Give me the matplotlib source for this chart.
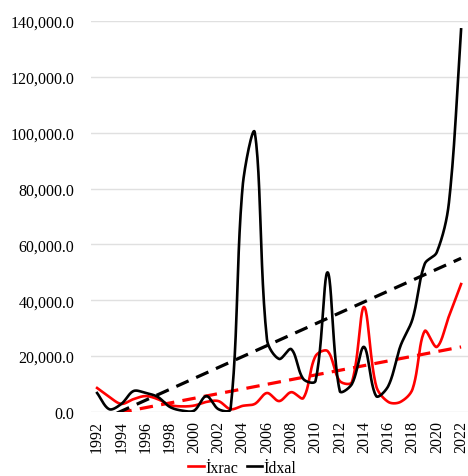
import matplotlib.pyplot as plt
import numpy as np
from matplotlib.ticker import FuncFormatter

years = np.arange(1992, 2023)
ixrac = [8600, 5400, 2900, 4600, 5700, 4600, 2500, 2000, 2300, 3600,
         3900, 1000, 2200, 2900, 6800, 3900, 7100, 5000, 20000, 21800,
         11100, 10700, 37600, 9300, 3600, 3600, 8200, 29000, 23300, 34300,
         45800]
idxal = [6800, 1000, 2900, 7500, 6800, 5400, 1800, 500, 500, 5700,
         1000, 1000, 81000, 100000, 26000, 19000, 22500, 11800, 11100, 50000,
         7500, 10000, 23300, 5700, 9300, 23600, 33300, 53000, 57200, 75000,
         137000]
series_names = ["İxrac", "İdxal"]
series_colors = ["#FF0000", "black"]

# pixel scale of the plot, used so the smoothing behaves like a spreadsheet's
PX_PER_YEAR = 12.2
PX_PER_UNIT = 391 / 140000


def smooth(x, y, n=24):
    # Bezier "smoothed line": control points scaled by neighbouring chord lengths
    x = np.asarray(x, float)
    y = np.asarray(y, float)
    P = np.column_stack([x * PX_PER_YEAR, y * PX_PER_UNIT])
    P = np.vstack([P[0], P, P[-1]])
    t = np.linspace(0, 1, n, endpoint=False)[:, None]
    out = []
    for i in range(1, len(P) - 2):
        p0, p1, p2, p3 = P[i - 1:i + 3]
        d01 = np.linalg.norm(p1 - p0)
        d12 = np.linalg.norm(p2 - p1)
        d23 = np.linalg.norm(p3 - p2)
        c1 = p1 + (p2 - p0) * d12 / (3 * (d01 + d12)) if d01 + d12 > 0 else p1
        c2 = p2 - (p3 - p1) * d12 / (3 * (d12 + d23)) if d12 + d23 > 0 else p2
        b = ((1 - t) ** 3 * p1 + 3 * (1 - t) ** 2 * t * c1
             + 3 * (1 - t) * t ** 2 * c2 + t ** 3 * p2)
        out.append(b)
    out.append(P[-2][None, :])
    out = np.vstack(out)
    return out[:, 0] / PX_PER_YEAR, out[:, 1] / PX_PER_UNIT


plt.rcParams['font.family'] = ['Liberation Serif', 'DejaVu Serif']

fig = plt.figure(figsize=(4.68, 4.77), dpi=100)
ax = fig.add_axes([0.1945, 0.1342, 0.8055, 0.8197])

for vals, name, col in zip([ixrac, idxal], series_names, series_colors):
    sx, sy = smooth(years, vals)
    ax.plot(sx, sy, color=col, lw=1.9, label=name)
    # linear trend line
    k, b = np.polyfit(years, vals, 1)
    ax.plot(years, k * years + b, color=col, lw=2.3, ls=(0, (4.2, 2.6)))

ax.set_ylim(0, 140000)
ax.set_xlim(1991.5, 2022.57)
ax.set_yticks(np.arange(0, 140001, 20000))
ax.yaxis.set_major_formatter(FuncFormatter(lambda v, p: f"{v:,.1f}"))
ax.set_xticks(years[::2])
ax.tick_params(axis='x', rotation=90, length=0, labelsize=11.5, pad=6)
ax.tick_params(axis='y', length=0, labelsize=11.5, pad=12)
ax.grid(axis='y', color='#E0E0E0', lw=1)
ax.set_axisbelow(True)
for s in ax.spines.values():
    s.set_visible(False)

handles, labels = ax.get_legend_handles_labels()
fig.legend(handles, labels, loc='center', bbox_to_anchor=(0.518, 8 / 477),
           ncol=2, frameon=False, fontsize=11.5, handlelength=0.95,
           handletextpad=0.1, columnspacing=0.55, borderpad=0)

fig.savefig("out.png", dpi=100)
